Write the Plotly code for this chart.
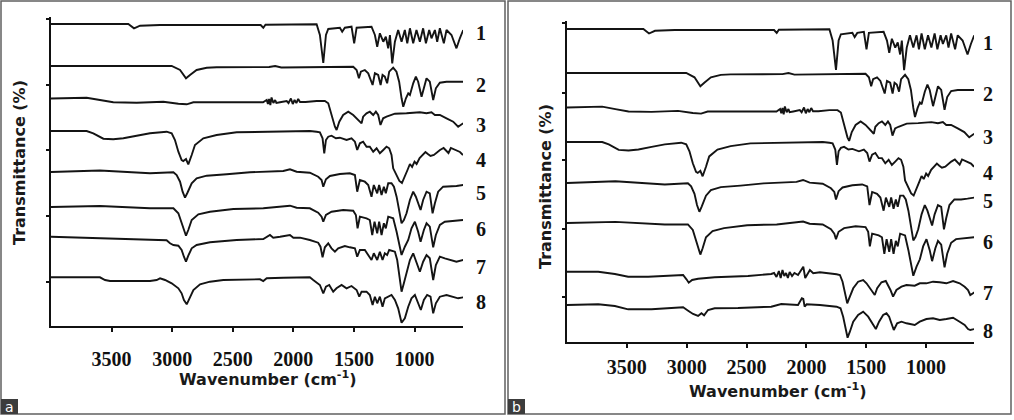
import plotly.graph_objects as go

# ---------------- data: (wavenumber cm-1, relative transmittance change) ----------------
SPEC_1 = [(4000,0),(3362,0),(3315,-4.3),(3265,-1.7),(3100,-1),(2270,-1),(2248,-3.7),(2230,-0.7),(1808,-0.3),
          (1781,-11),(1753,-39),(1731,-11),(1712,-5),(1671,-4.3),(1616,-3.7),(1597,-7.7),(1575,-3.7),(1520,-2.7),
          (1498,-19.3),(1478,-3.7),(1355,-2.7),(1327,-11),(1308,-22.7),(1286,-9.3),(1258,-17.7),(1237,-12.7),
          (1217,-24.3),(1203,-11),(1184,-39.3),(1162,-17.7),(1135,-6),(1107,-17.7),(1080,-6),(1060,-19.3),
          (1038,-4.3),(1011,-19.3),(984,-6),(956,-17.7),(929,-4.3),(906,-19.3),(879,-6),(860,-14.3),(832,-6),
          (813,-17.7),(791,-4.3),(758,-19.3),(736,-6),(695,-11),(654,-24.3),(626,-14.3),(598,-6)]

SPEC_2 = [(4000,0),(3004,0),(2935,-4),(2886,-12.3),(2853,-9),(2798,-4),(2715,-1.7),(2633,-1.3),(2200,-1),
          (2150,0),(2100,-1.5),(1506,-0.7),(1478,-4),(1459,-12.3),(1443,-5.7),(1410,-4),(1382,-7.3),(1346,-19),
          (1327,-7.3),(1300,-9),(1280,-19),(1264,-9),(1245,-10.7),(1226,-17.3),(1209,-5.7),(1176,-1.7),
          (1149,-5.7),(1127,-15.7),(1107,-32.3),(1093,-40.7),(1071,-32.3),(1052,-27.3),(1038,-29),(1011,-17.3),
          (989,-10.7),(970,-15.7),(942,-30.7),(923,-20.7),(901,-12.3),(874,-15.7),(846,-34),(824,-22.3),
          (791,-16.7),(736,-15.7),(598,-15.7)]

SPEC_3 = [(4000,0.5),(3706,1.3),(3596,-1),(3486,-3.3),(3293,-3.7),(3073,-2.7),(2949,-4.7),(2880,-5.3),
          (2825,-3.3),(2633,-3.3),(2250,-3.3),(2220,-1),(2210,-5),(2200,0),(2190,-6),(2180,1.5),(2165,-4),
          (2150,-1),(2140,-4),(2110,-3.3),(2055,-2),(2040,-4),(2020,0.5),(2005,-5),(1990,-1),(1975,-4),(1960,0),
          (1945,-3),(1900,-3),(1808,-2),(1740,-2),(1712,-4.3),(1685,-16),(1657,-27.7),(1643,-31),(1621,-22.7),
          (1589,-16),(1547,-12.7),(1506,-16),(1465,-21),(1437,-24.3),(1424,-17.7),(1396,-14.3),(1369,-12.7),
          (1341,-16),(1319,-12.7),(1300,-16),(1281,-26),(1259,-19.3),(1231,-17.7),(1190,-16),(1162,-14.7),
          (1066,-14.3),(956,-13.3),(901,-14.3),(860,-13.3),(832,-16),(791,-16),(736,-19.3),(681,-22.7),
          (640,-27.7),(613,-26),(598,-24.3)]

SPEC_4 = [(4000,0),(3706,0),(3651,-2.3),(3568,-7.7),(3486,-8.3),(3403,-7.3),(3293,-4.7),(3183,-2.3),
          (3046,-0.7),(3004,-2.3),(2977,-9),(2949,-20.7),(2922,-29),(2908,-30),(2886,-28),(2867,-33.3),
          (2839,-24),(2812,-14),(2743,-7.3),(2633,-4),(2468,-1.3),(2220,-0.7),(1863,0),(1808,-0.7),(1781,-1.3),
          (1759,-7.3),(1745,-22.3),(1731,-9),(1712,-5.7),(1685,-4.7),(1649,-7.3),(1616,-6.7),(1561,-9),
          (1520,-7.3),(1492,-10.7),(1473,-19),(1451,-12.3),(1424,-10.7),(1396,-15.7),(1369,-15.7),(1341,-20.7),
          (1313,-17.3),(1286,-22.3),(1258,-19),(1231,-15.7),(1209,-17.3),(1190,-24),(1176,-37.3),(1149,-44),
          (1125,-50),(1104,-52),(1080,-46),(1058,-39),(1038,-33),(1020,-36),(1000,-30.7),(983,-33),(958,-27),
          (930,-23.7),(910,-21),(890,-23),(868,-25),(840,-24),(810,-21),(790,-19),(760,-17),(740,-20),(720,-22),
          (700,-17),(680,-18),(655,-20),(625,-21),(600,-24)]

SPEC_5 = [(4000,0),(3596,1.5),(3183,-1.3),(2990,-0.3),(2963,-3),(2935,-9.7),(2914,-19.7),(2894,-25.7),
          (2875,-21),(2839,-11.3),(2798,-6.3),(2715,-3.7),(2550,-2.3),(2358,-0.3),(2083,1),(2028,2.7),
          (1973,0.3),(1864,-0.7),(1795,-4.7),(1767,-8),(1753,-14.7),(1731,-7.3),(1698,-4),(1616,-2),(1534,-1.3),
          (1492,-3),(1473,-19.7),(1451,-8),(1410,-9.7),(1382,-13),(1355,-24.7),(1336,-13),(1308,-21.3),
          (1292,-13),(1272,-23),(1253,-14.7),(1237,-21.3),(1217,-11.3),(1190,-11.3),(1170,-14.7),(1148,-24.7),
          (1129,-38),(1107,-51.3),(1088,-48),(1066,-41.3),(1038,-28),(1011,-19.7),(989,-24.7),(970,-31.3),
          (950,-38),(929,-28),(901,-19.7),(874,-21.3),(851,-41.3),(832,-31.3),(805,-19.7),(764,-14.7),
          (708,-14.7),(654,-14),(598,-13)]

SPEC_6 = [(4000,0),(3596,1),(3183,-1.3),(2990,-1.3),(2949,-6.3),(2922,-16.3),(2903,-24),(2886,-28.7),
          (2867,-23),(2839,-13),(2784,-7.3),(2688,-4.7),(2495,-2),(2248,-1.3),(2028,1.3),(1973,-0.7),
          (1864,-1.3),(1836,-3),(1795,-5.7),(1767,-9.7),(1753,-14.7),(1731,-8),(1685,-4.7),(1589,-3),
          (1506,-3.7),(1484,-8),(1470,-21.3),(1451,-9.7),(1396,-11.3),(1369,-13),(1349,-28),(1330,-14.7),
          (1308,-26.3),(1292,-14.7),(1272,-28),(1253,-16.3),(1237,-21.3),(1217,-9.7),(1176,-11.3),(1148,-24.7),
          (1129,-36.3),(1107,-48),(1080,-39.7),(1052,-33),(1025,-21.3),(997,-14.7),(970,-24.7),(950,-34.7),
          (923,-23),(901,-16.3),(874,-19.7),(846,-40.3),(824,-28),(791,-18),(750,-14.7),(681,-14),(598,-13)]

SPEC_7 = [(4000,1.3),(3733,0.3),(3458,-1),(3183,-2),(3046,-2.3),(3018,-5.3),(2990,-7),(2949,-7.7),
          (2922,-12),(2903,-18.7),(2886,-23.7),(2867,-17.7),(2839,-10.3),(2798,-7),(2688,-4.3),(2468,-2),
          (2248,-1),(2193,3),(2166,0.3),(2110,1.3),(2028,3),(2000,0.3),(1945,0.3),(1864,-2),(1795,-4.7),
          (1776,-8.7),(1759,-19.3),(1740,-9.3),(1712,-5.3),(1685,-10.3),(1657,-13.7),(1630,-10.3),(1575,-8),
          (1534,-9.3),(1492,-10.3),(1473,-18.7),(1451,-12),(1410,-12),(1382,-17),(1355,-22),(1336,-15.3),
          (1308,-22),(1286,-13.7),(1264,-22),(1245,-15.3),(1226,-17),(1209,-12),(1162,-13.7),(1143,-22),
          (1126,-35.3),(1107,-53.7),(1088,-45.3),(1066,-35.3),(1038,-22),(1011,-15.3),(984,-25.3),(956,-33.7),
          (929,-23.7),(901,-17),(874,-20.3),(846,-42),(824,-27),(791,-18.7),(750,-20.3),(708,-22),(654,-23.7),
          (598,-22)]

SPEC_8 = [(4000,-0.3),(3596,-0.3),(3554,-3),(3513,-4),(3183,-4),(3128,-3),(3100,-1.3),(3059,-3),(3004,-6.3),
          (2949,-11.3),(2922,-16.3),(2903,-23),(2880,-27.3),(2858,-21.3),(2825,-13),(2770,-7.3),(2688,-4.7),
          (2578,-3),(2275,-2.3),(2248,-4),(2220,-1.3),(2083,-0.7),(1864,-0.3),(1836,-3),(1781,-8),(1753,-16.3),
          (1731,-9.7),(1704,-8),(1671,-14.7),(1644,-11.3),(1602,-8),(1561,-11.3),(1520,-9),(1478,-13),
          (1456,-19.7),(1437,-14.7),(1396,-14.7),(1369,-18),(1346,-28),(1327,-19.7),(1308,-26.3),(1286,-19.7),
          (1264,-29.7),(1245,-21.3),(1217,-19.7),(1190,-18),(1162,-23),(1135,-31.3),(1107,-45.7),(1080,-41.3),
          (1052,-29.7),(1025,-21.3),(997,-18),(970,-26.3),(948,-33),(923,-23),(896,-18),(868,-19.7),
          (846,-36.3),(824,-26.3),(791,-19.7),(736,-18),(681,-19.7),(640,-21.3),(598,-20.3)]

SPEC_B7 = [(4000,0.3),(3739,0.3),(3600,-2),(3489,-4.7),(3322,-4.7),(3183,-4),(3030,-3),(3002,-7.3),
           (2983,-10.7),(2955,-8),(2905,-6.7),(2766,-5.3),(2488,-4),(2294,-2),(2270,-1),(2250,-5),(2230,1),
           (2215,-6),(2200,2),(2185,-4),(2170,-1),(2155,-6),(2140,0),(2120,-4),(2100,-1),(2070,-3),
           (2054,0.3),(2026,5.3),(2010,-6),(1998,-3),(1971,2),(1943,-1.3),(1887,-0.3),(1748,-2.3),(1720,-3),
           (1698,-9.7),(1679,-21.3),(1659,-31.3),(1643,-26.3),(1609,-16.3),(1568,-9.7),(1526,-8),(1498,-11.3),
           (1456,-18),(1429,-23),(1409,-16.3),(1373,-10.3),(1337,-9),(1317,-13),(1298,-18),(1276,-24.7),
           (1248,-18),(1206,-14.7),(1164,-13),(1095,-13.7),(1053,-11.3),(998,-11.3),(942,-9.7),(886,-10.3),
           (831,-11.3),(775,-9),(720,-11.3),(678,-14.7),(650,-18),(631,-23),(614,-21.3),(595,-20.3)]

SPEC_B8 = [(4000,0),(3739,0.7),(3600,-1),(3489,-4.3),(3294,-4.3),(3100,-2.3),(3030,-2.3),(2988,-5.7),
           (2947,-9),(2905,-11),(2877,-8.3),(2855,-10.3),(2822,-5),(2766,-3.3),(2571,-3),(2294,-1.7),
           (2210,1),(2070,0),(2038,6.7),(2026,6),(2015,-1.7),(1998,0.7),(1887,0),(1748,-1.7),(1715,-3.3),
           (1693,-11.7),(1670,-25),(1656,-32.7),(1637,-26.7),(1609,-16.7),(1568,-10),(1526,-6.7),(1484,-11.7),
           (1442,-20),(1420,-24),(1393,-16.7),(1359,-10),(1331,-8.3),(1309,-11.7),(1290,-18.3),(1270,-25),
           (1242,-18.3),(1206,-16.7),(1164,-18.3),(1095,-20),(1053,-16.7),(998,-14),(942,-13.3),(886,-15),
           (831,-14),(775,-12.7),(720,-16.7),(678,-20),(650,-24),(631,-25),(595,-24)]

SERIES_LABELS = ["1", "2", "3", "4", "5", "6", "7", "8"]
TICK_VALUES = [3500, 3000, 2500, 2000, 1500, 1000]
TICK_TEXT = ["3500", "3000", "2500", "2000", "1500", "1000"]

PANEL_A = [SPEC_1, SPEC_2, SPEC_3, SPEC_4, SPEC_5, SPEC_6, SPEC_7, SPEC_8]
PANEL_B = [SPEC_1, SPEC_2, SPEC_3, SPEC_4, SPEC_5, SPEC_6, SPEC_B7, SPEC_B8]

# ---------------- layout (stacking offsets, scale) ----------------
W, H = 1014, 420
OFFSET_A = [302, 260, 227, 195, 154, 119, 88, 49]
OFFSET_B = [313, 269, 234, 200, 159, 119, 70, 37]
SCALE_A = [1, 1, 1, 1, 1, 1, 1, 1]
SCALE_B = [1.05, 1.08, 1.06, 1.03, 1.12, 1.1, 1, 1]
LABEL_Y_A = [33, 85, 125, 160, 193, 229, 267, 302]
LABEL_Y_B = [43, 94, 137, 173, 201, 242, 293, 331]


def fx(x):
    return x / W


def fy(y):
    return 1 - y / H


fig = go.Figure()
line_style = dict(color="#141414", width=1.9)
for spec, off, sc in zip(PANEL_A, OFFSET_A, SCALE_A):
    wn = [p[0] for p in spec]
    tv = [off + sc * p[1] for p in spec]
    fig.add_trace(go.Scatter(x=wn, y=tv, mode="lines", line=line_style, xaxis="x", yaxis="y",
                             showlegend=False, hoverinfo="skip"))
for spec, off, sc in zip(PANEL_B, OFFSET_B, SCALE_B):
    wn = [p[0] for p in spec]
    tv = [off + sc * p[1] for p in spec]
    fig.add_trace(go.Scatter(x=wn, y=tv, mode="lines", line=line_style, xaxis="x2", yaxis="y2",
                             showlegend=False, hoverinfo="skip"))

tickfont = dict(family="Liberation Serif", size=20, color="#111", weight="bold")
common_x = dict(range=[4000, 600], showline=True, linecolor="#111", linewidth=2, ticks="outside",
                ticklen=4, tickwidth=1.5, tickcolor="#111", tickvals=TICK_VALUES, ticktext=TICK_TEXT,
                tickfont=tickfont, showgrid=False, zeroline=False)
common_y = dict(showline=True, linecolor="#111", linewidth=2, ticks="outside", ticklen=3, tickwidth=1.5,
                tickcolor="#111", showticklabels=False, showgrid=False, zeroline=False)

fig.update_layout(
    width=W, height=H, margin=dict(l=0, r=0, t=0, b=0),
    paper_bgcolor="white", plot_bgcolor="white",
    xaxis=dict(domain=[fx(51), fx(463)], anchor="y", ticklabelstandoff=10, **common_x),
    yaxis=dict(domain=[fy(326), fy(17)], range=[0, 309], anchor="x",
               tickvals=[307, 241, 176, 110, 44], **common_y),
    xaxis2=dict(domain=[fx(567), fx(974)], anchor="y2", ticklabelstandoff=2, **common_x),
    yaxis2=dict(domain=[fy(342), fy(21)], range=[0, 321], anchor="x2",
                tickvals=[319, 249, 182, 113, 45], **common_y),
)

ann = []
numfont = dict(family="Liberation Serif", size=20, color="#111", weight="bold")
for lab, yy in zip(SERIES_LABELS, LABEL_Y_A):
    ann.append(dict(x=fx(481), y=fy(yy), xref="paper", yref="paper", text=lab, showarrow=False,
                    font=numfont, xanchor="center", yanchor="middle"))
for lab, yy in zip(SERIES_LABELS, LABEL_Y_B):
    ann.append(dict(x=fx(988), y=fy(yy), xref="paper", yref="paper", text=lab, showarrow=False,
                    font=numfont, xanchor="center", yanchor="middle"))

titlefont = dict(family="DejaVu Sans", size=16, color="#1a1a1a", weight="bold")
ann.append(dict(x=fx(268), y=fy(378), xref="paper", yref="paper", text="Wavenumber (cm<sup>-1</sup>)",
                showarrow=False, font=titlefont, xanchor="center", yanchor="middle"))
ann.append(dict(x=fx(778), y=fy(390), xref="paper", yref="paper", text="Wavenumber (cm<sup>-1</sup>)",
                showarrow=False, font=titlefont, xanchor="center", yanchor="middle"))
ann.append(dict(x=fx(20), y=fy(163), xref="paper", yref="paper", text="Transmittance (%)", textangle=-90,
                showarrow=False, font=titlefont, xanchor="center", yanchor="middle"))
ann.append(dict(x=fx(545), y=fy(187), xref="paper", yref="paper", text="Transmittance (%)", textangle=-90,
                showarrow=False, font=titlefont, xanchor="center", yanchor="middle"))

# panel letters
for letter, x0 in (("a", 1), ("b", 508)):
    ann.append(dict(x=fx(x0 + 8.5), y=fy(407), xref="paper", yref="paper", text=letter, showarrow=False,
                    font=dict(family="DejaVu Sans", size=14, color="white"), xanchor="center",
                    yanchor="middle"))

shapes = [
    dict(type="rect", xref="paper", yref="paper", x0=fx(1), x1=fx(505), y0=fy(414), y1=fy(1),
         line=dict(color="#606060", width=1.5)),
    dict(type="rect", xref="paper", yref="paper", x0=fx(508), x1=fx(1011), y0=fy(414), y1=fy(1),
         line=dict(color="#606060", width=1.5)),
    dict(type="rect", xref="paper", yref="paper", x0=fx(1), x1=fx(18), y0=fy(414), y1=fy(399),
         fillcolor="#3c3c3c", line=dict(width=0)),
    dict(type="rect", xref="paper", yref="paper", x0=fx(508), x1=fx(525), y0=fy(414), y1=fy(399),
         fillcolor="#3c3c3c", line=dict(width=0)),
]
fig.update_layout(annotations=ann, shapes=shapes)

fig.write_html("out.html")
